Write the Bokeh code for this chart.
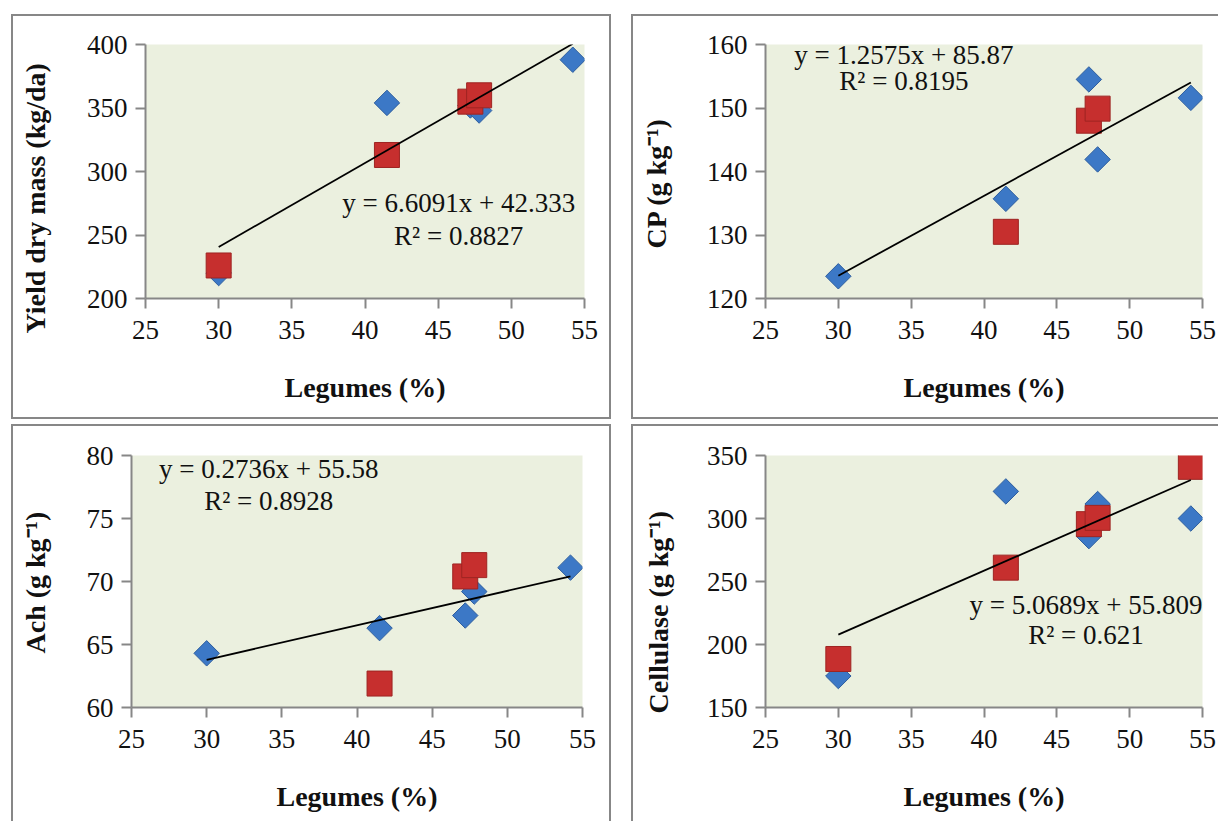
import math
from bokeh.plotting import figure
from bokeh.models import (Range1d, FixedTicker, Label, ColumnDataSource, Title,
                          LinearAxis)
from bokeh.layouts import row, column
from bokeh.embed import file_html
from bokeh.resources import INLINE

# ---------------- data ----------------
legumes = [30, 41.5, 47.2, 47.8, 54.2]

yield_diamond = [220, 354, 352, 348, 388]
yield_sq_x = [30, 41.5, 47.2, 47.8]
yield_square = [226, 313, 355, 360]

cp_diamond = [123.5, 135.7, 154.5, 141.9, 151.6]
cp_sq_x = [41.5, 47.2, 47.8]
cp_square = [130.5, 148.0, 149.9]

ach_diamond = [64.3, 66.3, 67.3, 69.2, 71.1]
ach_sq_x = [41.5, 47.2, 47.8]
ach_square = [61.9, 70.4, 71.3]

cel_diamond = [175, 321.5, 286, 311.5, 300]
cel_sq_x = [30, 41.5, 47.2, 47.8, 54.2]
cel_square = [188.5, 261, 295.5, 300.5, 341]

slopes = [6.6091, 1.2575, 0.2736, 5.0689]
intercepts = [42.333, 85.87, 55.58, 55.809]
r2_values = ["0.8827", "0.8195", "0.8928", "0.621"]
eq_texts = ["y = 6.6091x + 42.333", "y = 1.2575x + 85.87",
            "y = 0.2736x + 55.58", "y = 5.0689x + 55.809"]

y_titles = ["Yield dry mass (kg/da)", "CP (g kg\u207b\u00b9)",
            "Ach (g kg\u207b\u00b9)", "Cellulase (g kg\u207b\u00b9)"]
x_title = "Legumes (%)"
x_ticks = [25, 30, 35, 40, 45, 50, 55]
y_ticks_list = [[200, 250, 300, 350, 400], [120, 130, 140, 150, 160],
                [60, 65, 70, 75, 80], [150, 200, 250, 300, 350]]

# ---------------- style ----------------
FONT = "Liberation Serif"
FRAME_BG = "#EBF0DF"
AXIS_COL = "#878787"
BORDER = "2px solid #878787"
BLUE = "#3C78C6"
BLUE_LINE = "#2E5E9E"
RED = "#C62F2E"
RED_LINE = "#9E2422"


def make_panel(diam, sqx, sqy, idx, width, height, mb, styles,
               eq_pos, title_offset, title_gap):
    yt = y_ticks_list[idx]
    p = figure(width=width, height=height, output_backend="svg",
               toolbar_location=None,
               x_range=Range1d(x_ticks[0], x_ticks[-1]),
               y_range=Range1d(yt[0], yt[-1]),
               min_border_left=mb[0], min_border_right=mb[1],
               min_border_top=mb[2], min_border_bottom=mb[3],
               background_fill_color=FRAME_BG, border_fill_color="white",
               outline_line_color=None, styles=styles)
    p.grid.visible = False
    for ax in (p.xaxis[0], p.yaxis[0]):
        ax.axis_line_color = AXIS_COL
        ax.axis_line_width = 2
        ax.major_tick_line_color = AXIS_COL
        ax.major_tick_line_width = 2
        ax.major_tick_out = 10
        ax.major_tick_in = 0
        ax.minor_tick_line_color = None
        ax.major_label_text_font = FONT
        ax.major_label_text_font_size = "27px"
        ax.major_label_text_color = "#111111"
    p.yaxis.major_label_standoff = 8
    p.xaxis.major_label_standoff = 12
    p.xaxis.ticker = FixedTicker(ticks=x_ticks)
    p.yaxis.ticker = FixedTicker(ticks=yt)
    p.xaxis.axis_label = x_title
    p.xaxis.axis_label_text_font = FONT
    p.xaxis.axis_label_text_font_style = "bold"
    p.xaxis.axis_label_text_font_size = "28px"
    p.xaxis.axis_label_text_color = "#111111"
    p.xaxis.axis_label_standoff = 30

    d_src = ColumnDataSource(dict(x=legumes, y=diam))
    p.scatter("x", "y", source=d_src, marker="square", angle=math.pi / 4,
              size=18, fill_color=BLUE, line_color=BLUE_LINE, line_width=1)
    s_src = ColumnDataSource(dict(x=sqx, y=sqy))
    p.scatter("x", "y", source=s_src, marker="square", size=25,
              fill_color=RED, line_color=RED_LINE, line_width=1)

    x0, x1 = min(legumes), max(legumes)
    p.line([x0, x1], [slopes[idx] * x0 + intercepts[idx],
                      slopes[idx] * x1 + intercepts[idx]],
           line_color="black", line_width=1.8)

    ex, ey1, ey2 = eq_pos
    for txt, yy in ((eq_texts[idx], ey1), ("R\u00b2 = " + r2_values[idx], ey2)):
        p.add_layout(Label(x=ex, y=yy, text=txt, text_align="center",
                           text_baseline="alphabetic", text_font=FONT,
                           text_font_size="27px", text_color="#111111"))

    # blank spacer axis (one white tick, empty label) between tick labels and title
    spacer = LinearAxis(ticker=FixedTicker(ticks=[yt[0]]),
                        major_label_overrides={yt[0]: ""},
                        major_tick_out=title_gap, major_tick_in=0,
                        major_label_standoff=0, minor_tick_out=0,
                        axis_line_color=None, major_tick_line_color="white",
                        major_tick_line_width=1, minor_tick_line_color=None,
                        major_label_text_font_size="1px")
    p.add_layout(spacer, "left")
    p.add_layout(Title(text=y_titles[idx], align="left",
                       offset=title_offset, standoff=0,
                       text_font=FONT, text_font_style="bold",
                       text_font_size="28px", text_color="#111111"), "left")
    return p


p1 = make_panel(yield_diamond, yield_sq_x, yield_square, 0, 600, 405,
                (132, 29, 28, 123), {"border": BORDER},
                (46.4, 275.2, 249.6), -35, 33)
p2 = make_panel(cp_diamond, cp_sq_x, cp_square, 1, 587, 405,
                (132, 18, 28, 123),
                {"border-top": BORDER, "border-bottom": BORDER, "border-left": BORDER},
                (34.5, 158.38, 154.22), 50, 32)
p3 = make_panel(ach_diamond, ach_sq_x, ach_square, 2, 600, 397,
                (118, 31, 29, 116),
                {"border-top": BORDER, "border-left": BORDER, "border-right": BORDER},
                (34.13, 78.96, 76.41), 54, 33)
p4 = make_panel(cel_diamond, cel_sq_x, cel_square, 3, 587, 397,
                (132, 18, 29, 116),
                {"border-top": BORDER, "border-left": BORDER},
                (47.0, 231.6, 207.6), -6, 30)

layout = column(row(p1, p2, spacing=20), row(p3, p4, spacing=20),
                spacing=5, margin=(14, 0, 0, 11))

open("out.html", "w").write(file_html(layout, INLINE))
